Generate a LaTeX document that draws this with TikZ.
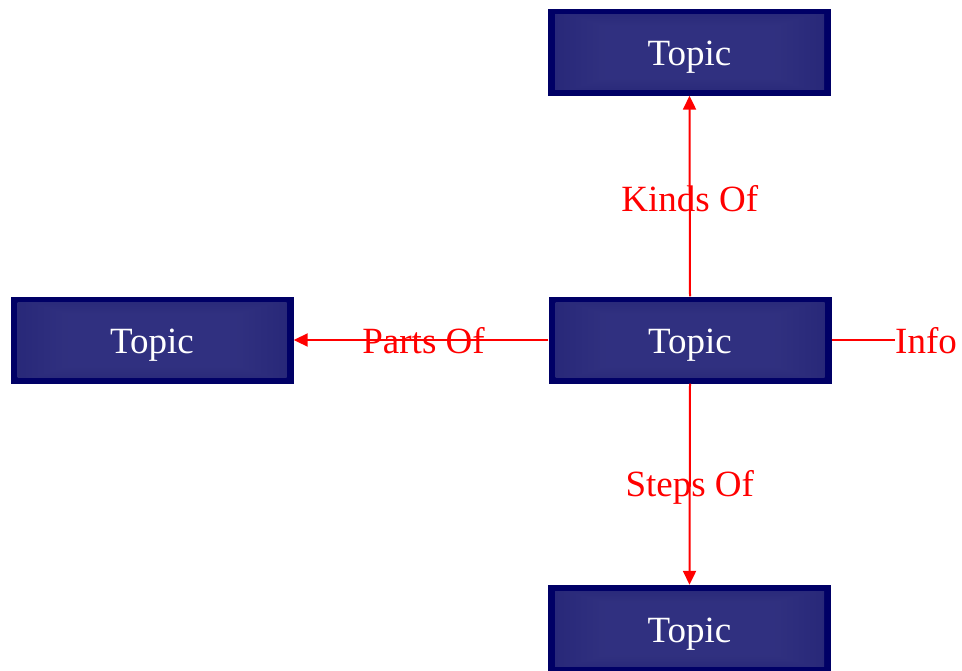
\documentclass[tikz,border=0pt]{standalone}
\usepackage{fontspec}
\setmainfont{Liberation Serif}
\usetikzlibrary{arrows.meta}
\definecolor{navy}{RGB}{0,0,102}
\definecolor{linkred}{RGB}{255,0,0}
\pgfdeclarefunctionalshading{topicshade}{\pgfpoint{-50bp}{-50bp}}{\pgfpoint{50bp}{50bp}}{}{
  abs 0.02 mul exch abs 0.02 mul
  2 copy lt {exch} if pop
  0.3 sub 0.7 div dup 0 lt {pop 0} if
  dup -0.13 mul 0.19 add exch
  dup -0.13 mul 0.19 add exch
  -0.10 mul 0.50 add
}
\tikzset{
  topic/.style={draw=none, fill=navy, minimum width=283pt, minimum height=87pt,
    inner sep=0pt, text=white, font=\fontsize{37}{40}\selectfont,
    text height=27pt, text depth=0pt,
    path picture={\shade[shading=topicshade]
      ([shift={(7pt,-6pt)}]path picture bounding box.north west) rectangle
      ([shift={(-7pt,6pt)}]path picture bounding box.south east);}},
  link/.style={draw=linkred, line width=2pt},
  arr/.style={link, -{Triangle[length=14pt,width=13pt]}},
  lbl/.style={text=linkred, font=\fontsize{37}{40}\selectfont, inner sep=0pt,
    text height=25pt, text depth=0pt}
}
\begin{document}
\begin{tikzpicture}[x=1pt,y=-1pt]
\useasboundingbox (0,0) rectangle (962,670);
\node[topic] (top) at (689.5,52) {Topic};
\node[topic] (mid) at (690,340) {Topic};
\node[topic] (left) at (152,340) {Topic};
\node[topic] (bot) at (689.5,628.5) {Topic};
\coordinate (infoend) at (895,340);
\draw[arr] (mid.north) -- (top.south) node[lbl, pos=0.485] {Kinds Of};
\draw[arr] (mid.south) -- (bot.north) node[lbl, pos=0.5] {Steps Of};
\draw[arr] (mid.west) -- (left.east) node[lbl, pos=0.49, yshift=-1pt] {Parts Of};
\draw[link] (mid.east) -- (infoend);
\node[lbl, anchor=west, yshift=-1pt] (info) at (infoend) {Info};
\end{tikzpicture}
\end{document}
